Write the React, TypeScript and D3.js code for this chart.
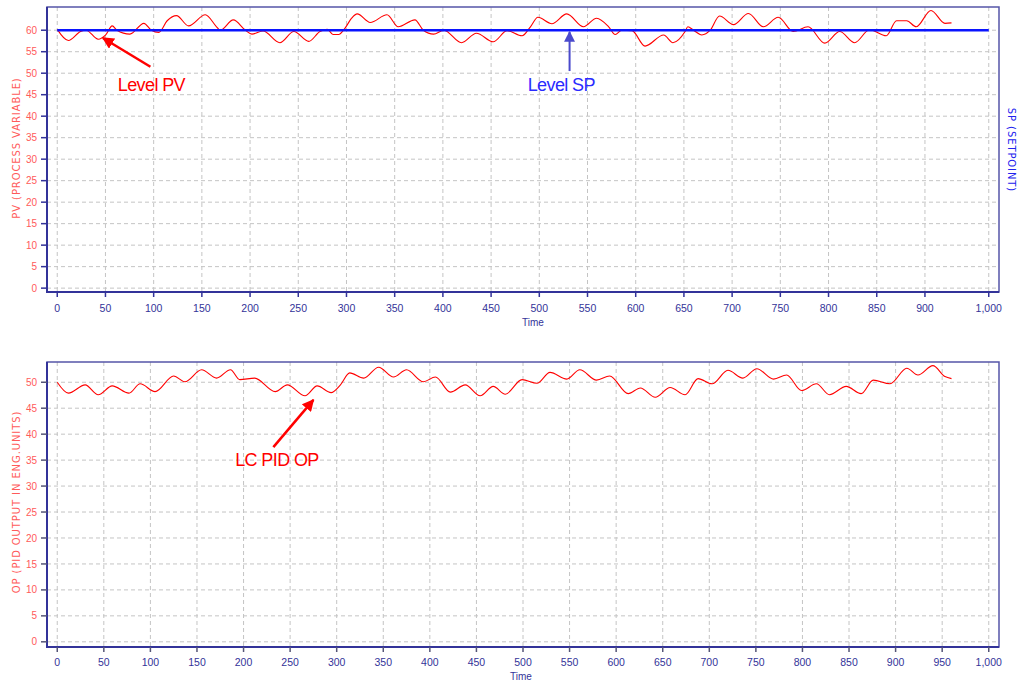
import { useEffect, useRef } from "react";
import * as d3 from "d3";

// PV (level)
const pvTime = [0, 12, 25, 31, 44, 52, 59, 64, 78, 93, 101, 109, 118, 128, 141, 159, 171, 175, 189, 202, 209, 221, 239, 254, 270, 282, 290, 296, 302, 309, 316, 322, 336, 354, 366, 384, 393, 404, 415, 434, 450, 468, 483, 499, 508, 516, 531, 547, 565, 579, 592, 599, 606, 617, 631, 651, 661, 674, 677, 683, 692, 701, 711, 726, 742, 758, 774, 790, 806, 824, 840, 856, 872, 890, 901, 912, 922, 938, 953, 960];
const pvValue = [60.2, 57.6, 59.7, 60.0, 57.9, 58.9, 61.0, 60.0, 59.1, 61.6, 60.0, 59.5, 62.2, 63.4, 61.0, 63.6, 60.8, 60.0, 62.4, 60.0, 59.1, 59.8, 57.1, 59.7, 57.4, 59.7, 60.2, 59.0, 59.0, 60.5, 62.8, 63.8, 61.8, 63.6, 60.8, 62.4, 60.0, 59.1, 60.0, 57.1, 59.3, 57.3, 59.9, 58.7, 60.8, 63.0, 61.5, 63.8, 60.8, 62.8, 60.8, 59.0, 60.0, 59.9, 56.3, 58.9, 57.1, 59.7, 60.8, 60.0, 58.9, 60.0, 63.3, 61.3, 63.9, 60.8, 63.0, 59.7, 60.8, 57.0, 59.7, 57.1, 60.1, 58.7, 62.2, 62.2, 60.8, 64.6, 61.6, 61.7];

// setpoint
const spTime = [0, 1000];
const spValue = [60, 60];

// controller output
const opTime = [0, 12, 30, 44, 59, 77, 89, 105, 125, 137, 155, 171, 186, 196, 212, 234, 247, 266, 279, 294, 304, 314, 329, 345, 361, 375, 393, 406, 422, 438, 454, 468, 481, 499, 515, 529, 547, 561, 579, 593, 613, 626, 642, 658, 674, 688, 703, 720, 736, 751, 769, 783, 799, 815, 829, 847, 863, 876, 894, 912, 924, 940, 953, 960];
const opValue = [50.0, 47.9, 49.5, 47.6, 49.3, 47.9, 49.7, 48.2, 51.2, 50.1, 52.4, 50.8, 52.4, 50.5, 50.8, 48.2, 49.5, 47.4, 49.3, 48.0, 49.5, 51.8, 50.8, 52.9, 51.0, 52.4, 50.1, 51.0, 48.1, 49.5, 47.4, 49.2, 47.7, 50.5, 49.8, 51.9, 50.6, 52.4, 50.4, 51.2, 47.8, 48.9, 47.1, 49.0, 47.6, 50.7, 49.7, 52.3, 50.8, 52.6, 50.6, 51.4, 48.4, 49.7, 47.6, 49.2, 47.8, 50.4, 49.7, 52.7, 51.4, 53.2, 51.1, 50.7];

// tick labels
const topXTicks = [0, 50, 100, 150, 200, 250, 300, 350, 400, 450, 500, 550, 600, 650, 700, 750, 800, 850, 900, 1000];
const bottomXTicks = [0, 50, 100, 150, 200, 250, 300, 350, 400, 450, 500, 550, 600, 650, 700, 750, 800, 850, 900, 950, 1000];
const topYTicks = [0, 5, 10, 15, 20, 25, 30, 35, 40, 45, 50, 55, 60];
const bottomYTicks = [0, 5, 10, 15, 20, 25, 30, 35, 40, 45, 50];

// annotations, in data units (time, value)
const pvNote = { label: "Level PV", tail: [100, 51.5], head: [49, 58.2], text: [65, 45.9] };
const spNote = { label: "Level SP", tail: [550, 50.5], head: [550, 59.6], text: [505, 45.9] };
const opNote = { label: "LC PID OP", tail: [232, 37.5], head: [275, 46.6], text: [191, 33.9] };

const FONT = "'Liberation Sans', Arial, Helvetica, sans-serif";
const WIDE = "'DejaVu Sans', Verdana, sans-serif";
const NAVY = "#333399";
const RED = "#ff0000";
const TICK_RED = "#ff5a5a";

export default function App() {
  const ref = useRef<SVGSVGElement>(null);

  useEffect(() => {
    const svg = d3.select(ref.current);
    svg.selectAll("*").remove();

    const x = d3.scaleLinear().domain([-11, 1011]).range([47, 999]);
    // the upper panel's grid is spaced slightly wider than its data
    const stretch = 1.035;
    const xTop = d3
      .scaleLinear()
      .domain([0, 900, 1000])
      .range([x(0), x(900 * stretch), x(1000)]);

    const defs = svg.append("defs");
    const marker = (id: string, color: string, size: number) =>
      defs
        .append("marker")
        .attr("id", id)
        .attr("viewBox", "0 0 10 10")
        .attr("refX", 9)
        .attr("refY", 5)
        .attr("markerUnits", "userSpaceOnUse")
        .attr("markerWidth", size)
        .attr("markerHeight", size)
        .attr("orient", "auto")
        .append("path")
        .attr("d", "M0,0 L10,5 L0,10 Z")
        .attr("fill", color);
    marker("arrRed", RED, 12);
    marker("arrBlue", "#4a4acc", 11);

    const panels = [
      {
        y: d3.scaleLinear().domain([-0.9, 65.4]).range([292, 7]),
        xt: xTop,
        xTicks: topXTicks,
        yTicks: topYTicks,
        yTitle: "PV (PROCESS VARIABLE)",
        yTitleY: 148,
        xLabelY: 312,
        timeX: 533,
        timeY: 326,
        tickColor: NAVY,
      },
      {
        y: d3.scaleLinear().domain([-1.0, 53.9]).range([647, 362]),
        xt: x,
        xTicks: bottomXTicks,
        yTicks: bottomYTicks,
        yTitle: "OP (PID OUTPUT IN ENG.UNITS)",
        yTitleY: 502,
        xLabelY: 666,
        timeX: 521,
        timeY: 680,
        tickColor: "#555577",
      },
    ];

    const [x0, x1] = x.range();

    panels.forEach((p) => {
      const [yb, yt] = p.y.range();
      const g = svg.append("g");

      // grid
      g.append("g")
        .selectAll("line")
        .data(p.xTicks)
        .join("line")
        .attr("x1", (d) => p.xt(d))
        .attr("x2", (d) => p.xt(d))
        .attr("y1", yt)
        .attr("y2", yb)
        .attr("stroke", "#c4c4c4")
        .attr("stroke-dasharray", "4,3");
      g.append("g")
        .selectAll("line")
        .data(p.yTicks)
        .join("line")
        .attr("x1", x0)
        .attr("x2", x1)
        .attr("y1", (d) => p.y(d))
        .attr("y2", (d) => p.y(d))
        .attr("stroke", "#c4c4c4")
        .attr("stroke-dasharray", "4,3");

      // frame
      g.append("rect")
        .attr("x", x0)
        .attr("y", yt)
        .attr("width", x1 - x0)
        .attr("height", yb - yt)
        .attr("fill", "none")
        .attr("stroke", "#5555a8")
        .attr("stroke-width", 1.5);
      g.append("path")
        .attr("d", `M${x0},${yt}V${yb}H${x1}`)
        .attr("fill", "none")
        .attr("stroke", NAVY)
        .attr("stroke-width", 2);

      // y ticks + labels
      g.append("g")
        .selectAll("line")
        .data(p.yTicks)
        .join("line")
        .attr("x1", x0 - 6)
        .attr("x2", x0)
        .attr("y1", (d) => p.y(d))
        .attr("y2", (d) => p.y(d))
        .attr("stroke", p.tickColor)
        .attr("stroke-width", 1.5);
      g.append("g")
        .selectAll("text")
        .data(p.yTicks)
        .join("text")
        .attr("x", x0 - 10)
        .attr("y", (d) => p.y(d))
        .attr("dy", "0.36em")
        .attr("text-anchor", "end")
        .attr("fill", TICK_RED)
        .style("font", `10px ${FONT}`)
        .text((d) => d);

      // x ticks + labels
      g.append("g")
        .selectAll("line")
        .data(p.xTicks)
        .join("line")
        .attr("x1", (d) => p.xt(d))
        .attr("x2", (d) => p.xt(d))
        .attr("y1", yb)
        .attr("y2", yb + 5)
        .attr("stroke", p.tickColor)
        .attr("stroke-width", 1.5);
      g.append("g")
        .selectAll("text")
        .data(p.xTicks)
        .join("text")
        .attr("x", (d) => p.xt(d))
        .attr("y", p.xLabelY)
        .attr("text-anchor", "middle")
        .attr("fill", NAVY)
        .style("font", `10.5px ${FONT}`)
        .text((d) => d3.format(",")(d));

      g.append("text")
        .attr("x", p.timeX)
        .attr("y", p.timeY)
        .attr("text-anchor", "middle")
        .attr("fill", NAVY)
        .style("font", `10px ${FONT}`)
        .text("Time");

      g.append("text")
        .attr("transform", `translate(20,${p.yTitleY}) rotate(-90)`)
        .attr("text-anchor", "middle")
        .attr("fill", TICK_RED)
        .attr("letter-spacing", "0.9")
        .style("font", `10px ${WIDE}`)
        .text(p.yTitle);
    });

    const yTop = panels[0].y;
    const yBot = panels[1].y;

    // right-hand setpoint axis title
    svg
      .append("text")
      .attr("transform", `translate(1008,150) rotate(90)`)
      .attr("text-anchor", "middle")
      .attr("fill", "#2222ee")
      .attr("letter-spacing", "0.9")
      .style("font", `10px ${WIDE}`)
      .text("SP (SETPOINT)");

    const pvLine = d3
      .line<number>()
      .x((d, i) => x(pvTime[i]))
      .y((d) => yTop(d))
      .curve(d3.curveMonotoneX);
    svg
      .append("path")
      .attr("d", pvLine(pvValue))
      .attr("fill", "none")
      .attr("stroke", RED)
      .attr("stroke-width", 1.1);

    const spLine = d3
      .line<number>()
      .x((d, i) => x(spTime[i]))
      .y((d) => yTop(d));
    svg
      .append("path")
      .attr("d", spLine(spValue))
      .attr("fill", "none")
      .attr("stroke", "#0a14ff")
      .attr("stroke-width", 2.5);

    const opLine = d3
      .line<number>()
      .x((d, i) => x(opTime[i]))
      .y((d) => yBot(d))
      .curve(d3.curveMonotoneX);
    svg
      .append("path")
      .attr("d", opLine(opValue))
      .attr("fill", "none")
      .attr("stroke", RED)
      .attr("stroke-width", 1.1);

    const notes = [
      { n: pvNote, ys: yTop, color: RED, text: RED, w: 2.5, m: "arrRed" },
      { n: spNote, ys: yTop, color: "#4a4acc", text: "#2a2aff", w: 2, m: "arrBlue" },
      { n: opNote, ys: yBot, color: RED, text: RED, w: 2.5, m: "arrRed" },
    ];
    notes.forEach(({ n, ys, color, text, w, m }) => {
      svg
        .append("line")
        .attr("x1", x(n.tail[0]))
        .attr("y1", ys(n.tail[1]))
        .attr("x2", x(n.head[0]))
        .attr("y2", ys(n.head[1]))
        .attr("stroke", color)
        .attr("stroke-width", w)
        .attr("marker-end", `url(#${m})`);
      svg
        .append("text")
        .attr("x", x(n.text[0]))
        .attr("y", ys(n.text[1]))
        .attr("fill", text)
        .attr("letter-spacing", "-0.6")
        .style("font", `18px ${FONT}`)
        .text(n.label);
    });
  }, []);

  return (
    <svg
      ref={ref}
      width={1018}
      height={682}
      style={{ position: "absolute", left: 0, top: 0, background: "#ffffff" }}
    />
  );
}
